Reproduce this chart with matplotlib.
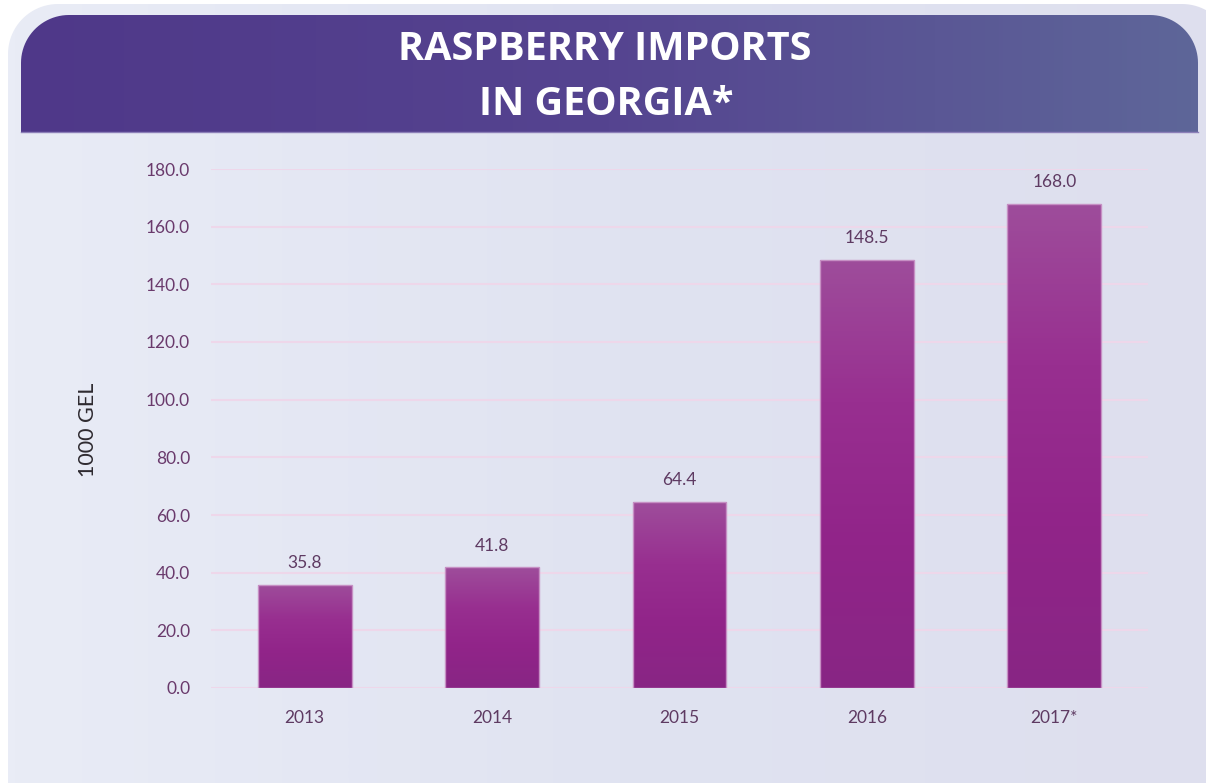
import numpy as np
import matplotlib.pyplot as plt
from matplotlib.path import Path
from matplotlib.patches import PathPatch
from matplotlib.colors import LinearSegmentedColormap

# data
years = ["2013", "2014", "2015", "2016", "2017*"]
imports = [35.8, 41.8, 64.4, 148.5, 168.0]
yticks = [0, 20, 40, 60, 80, 100, 120, 140, 160, 180]
title_lines = ["RASPBERRY IMPORTS", "IN GEORGIA*"]
ylabel = "1000 GEL"

W, H = 1206, 783
fig = plt.figure(figsize=(W / 100, H / 100), dpi=100)
fig.patch.set_facecolor("white")

# background layer in pixel coordinates (y pointing down)
bg = fig.add_axes([0, 0, 1, 1])
bg.axis("off")


def rounded_rect(x0, y0, x1, y1, r, round_bottom=True):
    t = np.linspace(0, np.pi / 2, 24)
    pts = []
    pts += list(zip(x0 + r - r * np.cos(t), y0 + r - r * np.sin(t)))
    pts += list(zip(x1 - r + r * np.sin(t), y0 + r - r * np.cos(t)))
    if round_bottom:
        pts += list(zip(x1 - r + r * np.cos(t), y1 - r + r * np.sin(t)))
        pts += list(zip(x0 + r - r * np.sin(t), y1 - r + r * np.cos(t)))
    else:
        pts += [(x1, y1), (x0, y1)]
    pts.append(pts[0])
    return Path(pts, closed=True)


def gradient_fill(ax, path, colors, extent, vertical=False, zorder=0):
    patch = PathPatch(path, facecolor="none", edgecolor="none")
    ax.add_patch(patch)
    cmap = LinearSegmentedColormap.from_list("g", colors)
    grad = np.linspace(0, 1, 256)
    grad = grad[:, None] if vertical else grad[None, :]
    im = ax.imshow(grad, extent=extent, aspect="auto", cmap=cmap,
                   interpolation="bicubic", zorder=zorder)
    im.set_clip_path(patch)
    return im


# light panel
panel = rounded_rect(8, 4, 1232, 860, 50)
gradient_fill(bg, panel, ["#E9ECF6", "#E0E3F1", "#DEDFEE"],
              [8, 1232, 860, 4], zorder=0)

# header band
header = rounded_rect(21, 15, 1198, 132, 48, round_bottom=False)
gradient_fill(bg, header, ["#4F3889", "#554490", "#5E6699"],
              [21, 1198, 132, 15], zorder=1)
bg.plot([21, 1198], [132, 132], color="#8C7FB8", lw=1, zorder=2)

bg.set_xlim(0, W)
bg.set_ylim(H, 0)

bg.text(605, 60, title_lines[0], ha="center", va="baseline", color="white",
        fontsize=28.5, fontweight="bold", family="Open Sans", zorder=3)
bg.text(606, 115, title_lines[1], ha="center", va="baseline", color="white",
        fontsize=28.5, fontweight="bold", family="Open Sans", zorder=3)

bg.text(88, 430, ylabel, rotation=90, ha="center", va="center",
        fontsize=15.5, color="#2E2A30", family="Lato", zorder=3)

# main chart
ax = fig.add_axes([211 / W, (H - 688) / H, (1148 - 211) / W, (688 - 169) / H])
ax.patch.set_alpha(0)
x = np.arange(len(years))
bars = ax.bar(x, imports, width=0.5, color="none", edgecolor="#C690C4",
              linewidth=1, zorder=3)

bar_cmap = LinearSegmentedColormap.from_list(
    "bar", ["#9E4D9B", "#982F90", "#912489", "#882684"])
for xi, val, b in zip(x, imports, bars):
    im = ax.imshow(np.linspace(0, 1, 256)[:, None],
                   extent=[xi - 0.25, xi + 0.25, 0, val],
                   aspect="auto", cmap=bar_cmap, zorder=2)
    im.set_clip_path(b)
    ax.annotate(f"{val:.1f}", (xi, val), xytext=(0, 10),
                textcoords="offset points", ha="center", va="bottom",
                fontsize=12.5, color="#5E3A62", family="Lato")

ax.set_xlim(-0.5, len(years) - 0.5)
ax.set_ylim(0, 180)
ax.set_yticks(yticks)
ax.set_yticklabels([f"{v:.1f}" for v in yticks])
ax.set_xticks(x)
ax.set_xticklabels(years)
ax.yaxis.grid(True, color="#EED7EA", linewidth=1.5)
ax.set_axisbelow(True)
for s in ax.spines.values():
    s.set_visible(False)
ax.tick_params(axis="y", length=0, pad=15, labelsize=12.5,
               labelcolor="#6A3A6C")
ax.tick_params(axis="x", length=0, pad=16, labelsize=12.5,
               labelcolor="#5E3A62")
for lab in ax.get_xticklabels() + ax.get_yticklabels():
    lab.set_family("Lato")

fig.savefig("out.png", dpi=100, facecolor="white")
